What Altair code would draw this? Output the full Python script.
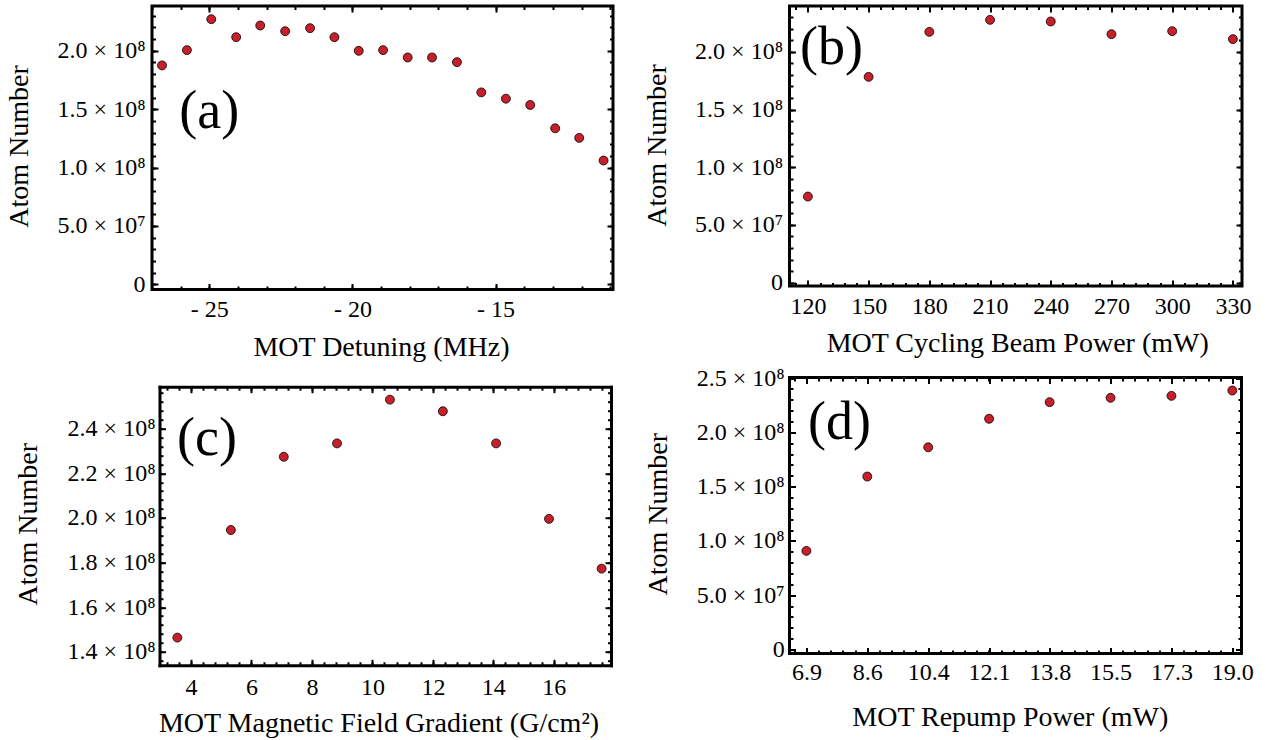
import altair as alt
import pandas as pd

# ---------------- data ----------------
# (a) MOT detuning scan
det_mhz = [-26.65, -25.78, -24.93, -24.06, -23.22, -22.35, -21.48, -20.63, -19.78, -18.93,
           -18.07, -17.22, -16.35, -15.50, -14.64, -13.79, -12.92, -12.08, -11.23]
det_atoms = [1.875e8, 2.006e8, 2.271e8, 2.117e8, 2.217e8, 2.168e8, 2.194e8, 2.117e8, 2.000e8, 2.006e8,
             1.943e8, 1.943e8, 1.903e8, 1.644e8, 1.590e8, 1.536e8, 1.336e8, 1.254e8, 1.060e8]
# (b) cycling beam power scan
cyc_mw = [120, 150, 180, 210, 240, 270, 300, 330]
cyc_atoms = [7.46e7, 1.783e8, 2.173e8, 2.277e8, 2.263e8, 2.153e8, 2.179e8, 2.110e8]
# (c) magnetic field gradient scan
grad = [3.55, 5.32, 7.07, 8.83, 10.58, 12.33, 14.09, 15.84, 17.58]
grad_atoms = [1.464e8, 1.946e8, 2.274e8, 2.334e8, 2.530e8, 2.478e8, 2.334e8, 1.996e8, 1.773e8]
# (d) repump power scan
rep_mw = [6.90, 8.63, 10.36, 12.09, 13.81, 15.54, 17.27, 19.00]
rep_atoms = [9.08e7, 1.593e8, 1.862e8, 2.125e8, 2.278e8, 2.318e8, 2.336e8, 2.385e8]

# tick labels
a_xticks = [-25, -20, -15]
a_yticks = [0, 5e7, 1e8, 1.5e8, 2e8]
b_xticks = [120, 150, 180, 210, 240, 270, 300, 330]
b_yticks = [0, 5e7, 1e8, 1.5e8, 2e8]
c_xticks = [4, 6, 8, 10, 12, 14, 16]
c_yticks = [1.4e8, 1.6e8, 1.8e8, 2.0e8, 2.2e8, 2.4e8]
d_xticks = rep_mw
d_yticks = [0, 5e7, 1e8, 1.5e8, 2e8, 2.5e8]

RED = "#C8202A"
FONT = "Liberation Serif"
SCI = ("datum.value == 0 ? '0' : (abs(datum.value) < 9.9e7 ? "
       "format(datum.value/1e7, '.1f') + ' \u00d7 10\u2077' : "
       "format(datum.value/1e8, '.1f') + ' \u00d7 10\u2078')")

MAJ, MIN = 6, 3.5


def rng(a, b, step):
    out, v = [], a
    while v <= b + 1e-9 * max(1.0, abs(step)):
        out.append(round(v, 10))
        v += step
    return out


def panel(xs, ys, tag, tagx, tagy, g):
    df = pd.DataFrame({"x": xs, "y": ys})
    w, h = g["w"], g["h"]
    ins = g.get("inset", 0)
    if ins:
        xsc = alt.Scale(domain=g["xdom"], nice=False, zero=False, range=[ins, ins + w])
    else:
        xsc = alt.Scale(domain=g["xdom"], nice=False, zero=False)
    ysc = alt.Scale(domain=g["ydom"], nice=False, zero=False)
    base = alt.Chart(df)

    def ax(orient, vals, size, **kw):
        off = -size - (ins if orient == "left" else 0)
        return alt.Axis(orient=orient, values=vals, tickSize=size, offset=off,
                        tickWidth=2, tickColor="black", domain=False, grid=False, **kw)

    xa0 = ax("bottom", g["xmaj"], MAJ, labels=True, labelPadding=g["xlp"],
             labelExpr=g["xfmt"], title=g["xtitle"], titleX=g["xtx"], titleY=g["xty"],
             titleAlign="center", titleBaseline="middle")
    ya0 = ax("left", g["ymaj"], MAJ, labels=True, labelPadding=g["ylp"], labelExpr=SCI,
             title="Atom Number", titleAngle=270, titleX=g["ytx"], titleY=g["yty"],
             titleAlign="center", titleBaseline="middle")
    xa1 = ax("bottom", g["xmin"], MIN, labels=False, title=None)
    ya1 = ax("left", g["ymin"], MIN, labels=False, title=None)
    xa2 = ax("top", g["xmaj"], MAJ, labels=False, title=None)
    ya2 = ax("right", g["ymaj"], MAJ, labels=False, title=None)
    xa3 = ax("top", g["xmin"], MIN, labels=False, title=None)
    ya3 = ax("right", g["ymin"], MIN, labels=False, title=None)
    pairs = [(xa0, ya0), (xa1, ya1), (xa2, ya2), (xa3, ya3)]

    if ins:
        # frame drawn by axis domain lines, since the plotting range is inset
        def fr(orient, off):
            return alt.Axis(orient=orient, offset=off, domain=True, domainWidth=3,
                            domainColor="black", domainCap="square", ticks=False,
                            labels=False, grid=False, title=None)
        pairs += [(fr("bottom", 0), fr("left", -ins)), (fr("top", 0), fr("right", 0))]

    layers = []
    for xa, ya in pairs:
        layers.append(base.mark_point(opacity=0).encode(
            x=alt.X("x:Q", scale=xsc, axis=xa), y=alt.Y("y:Q", scale=ysc, axis=ya)))
    pts = base.mark_circle(size=80, color=RED, stroke="black", strokeWidth=0.8, opacity=1).encode(
        x=alt.X("x:Q", scale=xsc, axis=None), y=alt.Y("y:Q", scale=ysc, axis=None))
    lab = alt.Chart(pd.DataFrame({"x": [tagx], "y": [tagy], "t": [tag]})).mark_text(
        font=FONT, fontSize=54, align="center", baseline="middle", color="black").encode(
        x=alt.X("x:Q", scale=xsc, axis=None), y=alt.Y("y:Q", scale=ysc, axis=None), text="t:N")
    ch = alt.layer(*layers, pts, lab).resolve_axis(x="independent", y="independent")
    if ins:
        return ch.properties(width=w + ins, height=h,
                             view=alt.ViewBackground(stroke="transparent"))
    return ch.properties(width=w, height=h)


ga = dict(xdom=[-27.0, -10.9], ydom=[-0.045e8, 2.384e8], w=461, h=283.5,
          xmaj=a_xticks, xmin=rng(-27, -11, 1), ymaj=a_yticks, ymin=rng(0, 2.3e8, 1e7),
          xfmt="datum.value < 0 ? '- ' + format(-datum.value, 'd') : format(datum.value, 'd')",
          xtitle="MOT Detuning (MHz)", xtx=229, xty=64, xlp=8, ylp=7,
          ytx=-139, yty=140)
gb = dict(xdom=[110.9, 334.5], ydom=[-0.029e8, 2.397e8], w=452.5, h=280,
          xmaj=b_xticks, xmin=rng(114, 330, 6), ymaj=b_yticks, ymin=rng(0, 2.3e8, 1e7),
          xfmt="format(datum.value, 'd')",
          xtitle="MOT Cycling Beam Power (mW)", xtx=227.7, xty=63.5, xlp=8, ylp=7,
          ytx=-138, yty=139)
gc = dict(xdom=[2.96, 17.89], ydom=[1.34e8, 2.588e8], w=451.5, h=278.6, inset=7.5,
          xmaj=c_xticks, xmin=rng(3.2, 17.6, 0.4), ymaj=c_yticks, ymin=rng(1.36e8, 2.56e8, 0.04e8),
          xfmt="format(datum.value, 'd')",
          xtitle="MOT Magnetic Field Gradient (G/cm\u00b2)", xtx=226.5, xty=64.4, xlp=10, ylp=4.5,
          ytx=-137, yty=137)
gd = dict(xdom=[6.42, 19.26], ydom=[-0.037e8, 2.505e8], w=452, h=276,
          xmaj=d_xticks, xmin=[round(6.9 + k * 12.1 / 35, 4) for k in range(-1, 37)],
          ymaj=d_yticks, ymin=rng(0, 2.5e8, 1e7),
          xfmt="format(datum.value, '.1f')",
          xtitle="MOT Repump Power (mW)", xtx=220.3, xty=69.5, xlp=6.5, ylp=5.3,
          ytx=-137, yty=136.2)

A = panel(det_mhz, det_atoms, "(a)", -25.0, 1.48e8, ga)
B = panel(cyc_mw, cyc_atoms, "(b)", 131.7, 2.03e8, gb)
C = panel(grad, grad_atoms, "(c)", 4.53, 2.355e8, gc)
D = panel(rep_mw, rep_atoms, "(d)", 7.84, 2.09e8, gd)

col1 = alt.vconcat(A, C, spacing=20.7)
col2 = alt.vconcat(B, D, spacing=5.5)
chart = alt.hconcat(col1, col2, spacing=25.5).properties(
    padding={"left": 3, "top": 3, "right": 0, "bottom": 0}, background="white"
).configure_view(stroke="black", strokeWidth=3).configure_axis(
    labelFont=FONT, labelFontSize=24, labelColor="black",
    titleFont=FONT, titleFontSize=28, titleColor="black", titleFontWeight="normal"
)

chart.save("out.html", embed_options={"renderer": "svg", "actions": False})
